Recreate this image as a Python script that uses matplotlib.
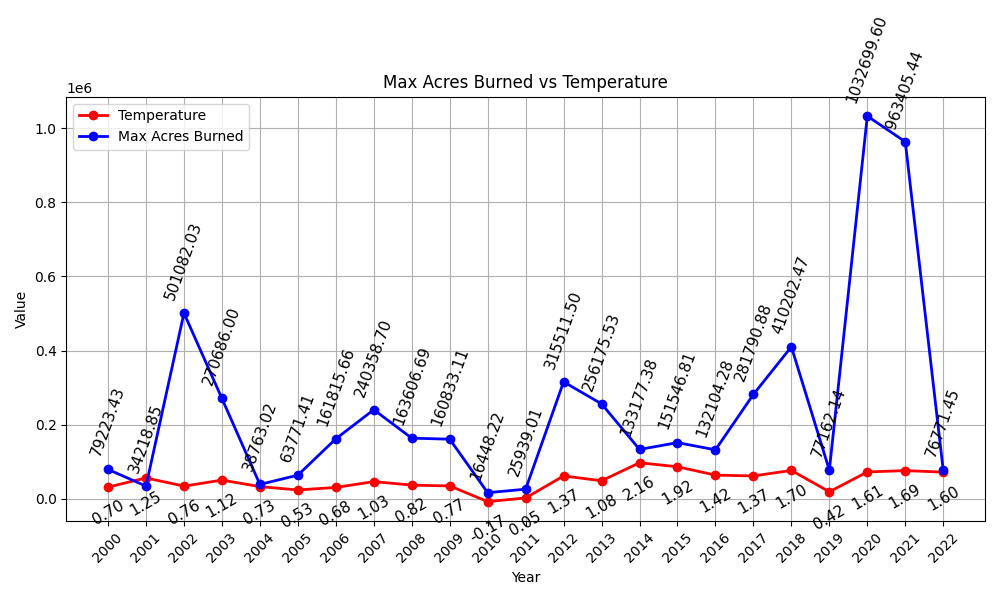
import numpy as np
import matplotlib.pyplot as plt

years = list(range(2000, 2023))
temps = [0.70, 1.25, 0.76, 1.12, 0.73, 0.53, 0.68, 1.03, 0.82, 0.77, -0.17, 0.05,
         1.37, 1.08, 2.16, 1.92, 1.42, 1.37, 1.70, 0.42, 1.61, 1.69, 1.60]
acres = [79223.43, 34218.85, 501082.03, 270686.00, 38763.02, 63771.41, 161815.66,
         240358.70, 163606.69, 160833.11, 16448.22, 25939.01, 315511.50, 256175.53,
         133177.38, 151546.81, 132104.28, 281790.88, 410202.47, 77162.14, 1032699.60,
         963405.44, 76771.45]

scale = 45000
temp_scaled = [t * scale for t in temps]

fig, ax = plt.subplots(figsize=(10, 6))
ax.plot(years, temp_scaled, marker="o", color="red", linewidth=2, label="Temperature")
ax.plot(years, acres, marker="o", color="blue", linewidth=2, label="Max Acres Burned")

for x, y, t in zip(years, temp_scaled, temps):
    ax.annotate(f"{t:.2f}", (x, y), xytext=(0, -8), textcoords="offset points",
                ha="center", va="top", rotation=30, fontsize=11)
for x, y in zip(years, acres):
    ax.annotate(f"{y:.2f}", (x, y), xytext=(0, 8), textcoords="offset points",
                ha="center", va="bottom", rotation=70, fontsize=11)

ax.set_title("Max Acres Burned vs Temperature")
ax.set_xlabel("Year")
ax.set_ylabel("Value")
ax.set_xticks(years)
ax.tick_params(axis="x", rotation=45)
ax.grid(True)
ax.legend(loc="upper left")
plt.tight_layout()
plt.savefig("out.png", dpi=100)
